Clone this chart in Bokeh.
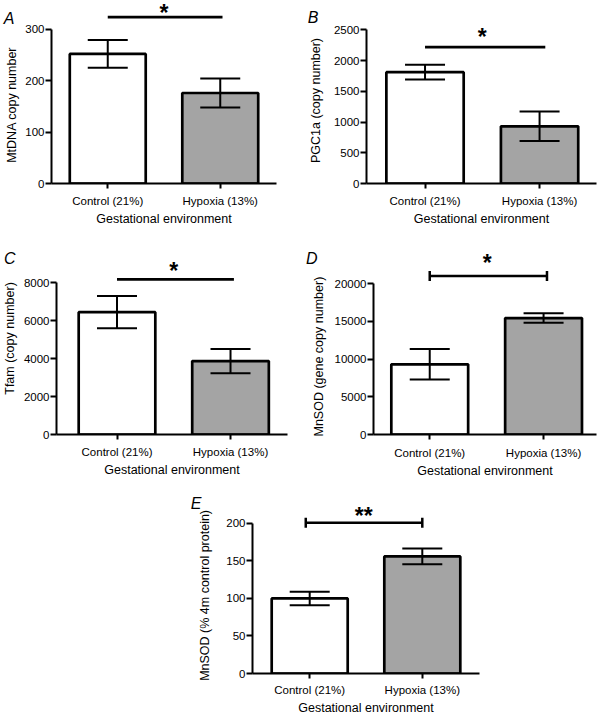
from bokeh.plotting import figure
from bokeh.models import (Range1d, FixedTicker, Whisker, TeeHead, ColumnDataSource, Label,
                          Spacer, LinearAxis)
from bokeh.layouts import row, column
from bokeh.embed import file_html
from bokeh.resources import INLINE

# ---------------- data ----------------
categories = ["Control (21%)", "Hypoxia (13%)"]
bar_colors = ["#ffffff", "#a4a4a4"]
x_title = "Gestational environment"

a_ylabel = "MtDNA copy number"
a_mean = [252, 176]
a_sem = [27, 28]
a_ticks = [0, 100, 200, 300]
a_sig = "*"

b_ylabel = "PGC1a (copy number)"
b_mean = [1810, 930]
b_sem = [120, 240]
b_ticks = [0, 500, 1000, 1500, 2000, 2500]
b_sig = "*"

c_ylabel = "Tfam (copy number)"
c_mean = [6450, 3870]
c_sem = [850, 640]
c_ticks = [0, 2000, 4000, 6000, 8000]
c_sig = "*"

d_ylabel = "MnSOD (gene copy number)"
d_mean = [9300, 15430]
d_sem = [2020, 630]
d_ticks = [0, 5000, 10000, 15000, 20000]
d_sig = "*"

e_ylabel = "MnSOD (% 4m control protein)"
e_mean = [100, 156]
e_sem = [9, 10.5]
e_ticks = [0, 50, 100, 150, 200]
e_sig = "**"

FONT = "Liberation Sans"


def text_axis(tick, text, standoff, size, style="normal", orientation="horizontal"):
    """A line-less, tick-less left axis whose only tick label is `text`."""
    return LinearAxis(ticker=FixedTicker(ticks=[tick]), major_label_overrides={tick: text},
                      major_label_orientation=orientation,
                      axis_line_color=None, major_tick_line_color=None,
                      minor_tick_line_color=None, major_tick_out=0, major_tick_in=0,
                      major_label_standoff=int(standoff), axis_label_standoff=0,
                      major_label_text_font=FONT, major_label_text_font_style=style,
                      major_label_text_font_size=size, major_label_text_color="black")


def make_panel(letter, ylabel, means, sems, ticks, sig, lay):
    fw, fh = lay["w"], lay["h"]
    frame_h = fh - lay["bottom"]
    y_end = lay["y_end"]
    xs, xe = lay["x"]

    def ydata(fy):
        return y_end * (frame_h - fy) / frame_h

    p = figure(width=fw, height=fh, title=None, output_backend="svg",
               toolbar_location=None, x_range=Range1d(xs, xe),
               y_range=Range1d(0, y_end), min_border_left=lay["left"],
               min_border_right=lay["right"], min_border_bottom=lay["bottom"],
               min_border_top=0)
    p.outline_line_color = None
    p.xgrid.visible = False
    p.ygrid.visible = False
    p.background_fill_color = "white"
    p.border_fill_color = "white"

    xpos = list(range(len(categories)))
    src = ColumnDataSource(dict(x=xpos, top=means, color=bar_colors,
                                upper=[m + s for m, s in zip(means, sems)],
                                lower=[m - s for m, s in zip(means, sems)]))
    p.vbar(x="x", top="top", width=0.675, fill_color="color", line_color="black",
           line_width=2.7, source=src)
    w = Whisker(source=src, base="x", upper="upper", lower="lower", dimension="height",
                line_width=2, line_color="black", level="annotation",
                upper_head=TeeHead(size=40, line_width=2, line_color="black"),
                lower_head=TeeHead(size=40, line_width=2, line_color="black"))
    p.add_layout(w)

    # significance line / bracket
    sy = ydata(lay["sig_fy"])
    x0, x1 = lay["sig_x"]
    if lay["bracket"]:
        bsrc = ColumnDataSource(dict(base=[sy], lower=[x0], upper=[x1]))
        bw = Whisker(source=bsrc, base="base", upper="upper", lower="lower",
                     dimension="width", line_width=2.5, line_color="black",
                     level="annotation",
                     upper_head=TeeHead(size=10, line_width=2.5, line_color="black"),
                     lower_head=TeeHead(size=10, line_width=2.5, line_color="black"))
        p.add_layout(bw)
    else:
        p.line(x=[x0, x1], y=[sy, sy], line_width=2.8, line_color="black")

    p.add_layout(Label(x=lay["star_x"], y=ydata(lay["star_fy"]), text=sig,
                       text_font=FONT, text_font_size="23px", text_font_style="bold",
                       text_align="center", text_baseline="middle", text_color="black"))

    # axes
    yax = p.yaxis[0]
    yax.ticker = FixedTicker(ticks=ticks)
    yax.bounds = (0, ticks[-1])
    xax = p.xaxis[0]
    xax.ticker = FixedTicker(ticks=xpos)
    xax.major_label_overrides = {i: c for i, c in enumerate(categories)}
    xax.axis_label = x_title
    xax.axis_label_standoff = int(lay["xals"])
    for ax in (xax, yax):
        ax.axis_line_width = 2
        ax.axis_line_color = "black"
        ax.major_tick_line_width = 2
        ax.major_tick_line_color = "black"
        ax.minor_tick_line_color = None
        ax.major_tick_in = 0
        ax.major_label_text_font = FONT
        ax.major_label_text_font_size = "11.5px"
        ax.major_label_text_color = "black"
        ax.axis_label_text_font = FONT
        ax.axis_label_text_font_size = "12.5px"
        ax.axis_label_text_font_style = "normal"
        ax.axis_label_text_color = "black"
    yax.major_tick_out = 6
    yax.major_label_standoff = 1
    xax.major_tick_out = 5
    xax.major_label_standoff = int(lay["xls"])

    # y-axis title (vertical), centred where the reference centres it
    yl = int(round(ydata(lay["yl_fy"])))
    p.add_layout(text_axis(yl, ylabel, lay["als"], "12.5px", orientation="vertical"), "left")
    # panel letter
    ly = int(round(ydata(lay["let_fy"])))
    p.add_layout(text_axis(ly, letter, lay["let_std"], "16px", style="italic"), "left")
    return p


lay_a = dict(w=300, h=240, left=44, right=24, bottom=57, y_end=355.8, x=(-0.5, 1.5),
             sig_fy=16.7, sig_x=(0.0, 1.02), bracket=False, star_x=0.5, star_fy=12.5,
             let_fy=18.2, let_std=-12, als=3, yl_fy=104.5, xals=2, xls=6)
lay_b = dict(w=302, h=240, left=66, right=6, bottom=57, y_end=2976.6, x=(-0.511, 1.497),
             sig_fy=46.7, sig_x=(0.0, 1.05), bracket=False, star_x=0.5, star_fy=36,
             let_fy=16.8, let_std=-12, als=7, yl_fy=100, xals=2, xls=6)
lay_c = dict(w=300, h=240, left=50, right=13, bottom=44, y_end=10228.0, x=(-0.533, 1.502),
             sig_fy=39.3, sig_x=(0.0, 1.03), bracket=False, star_x=0.5, star_fy=31.3,
             let_fy=17.7, let_std=-15, als=3, yl_fy=99, xals=2, xls=6)
lay_d = dict(w=302, h=240, left=73, right=6, bottom=45, y_end=25709.0, x=(-0.494, 1.465),
             sig_fy=35.7, sig_x=(0.0, 1.03), bracket=True, star_x=0.506, star_fy=23,
             let_fy=17.7, let_std=-8, als=5, yl_fy=116.7, xals=2, xls=7)
lay_e = dict(w=340, h=237, left=102, right=11, bottom=42, y_end=257.1, x=(-0.508, 1.508),
             sig_fy=42.7, sig_x=(-0.035, 1.0), bracket=True, star_x=0.48, star_fy=36.3,
             let_fy=22.7, let_std=-6, als=11, yl_fy=115.8, xals=2, xls=5)

pa = make_panel("A", a_ylabel, a_mean, a_sem, a_ticks, a_sig, lay_a)
pb = make_panel("B", b_ylabel, b_mean, b_sem, b_ticks, b_sig, lay_b)
pc = make_panel("C", c_ylabel, c_mean, c_sem, c_ticks, c_sig, lay_c)
pd = make_panel("D", d_ylabel, d_mean, d_sem, d_ticks, d_sig, lay_d)
pe = make_panel("E", e_ylabel, e_mean, e_sem, e_ticks, e_sig, lay_e)

layout = column(row(pa, pb), row(pc, pd), row(Spacer(width=150, height=237), pe))

with open("out.html", "w") as f:
    f.write(file_html(layout, INLINE))
